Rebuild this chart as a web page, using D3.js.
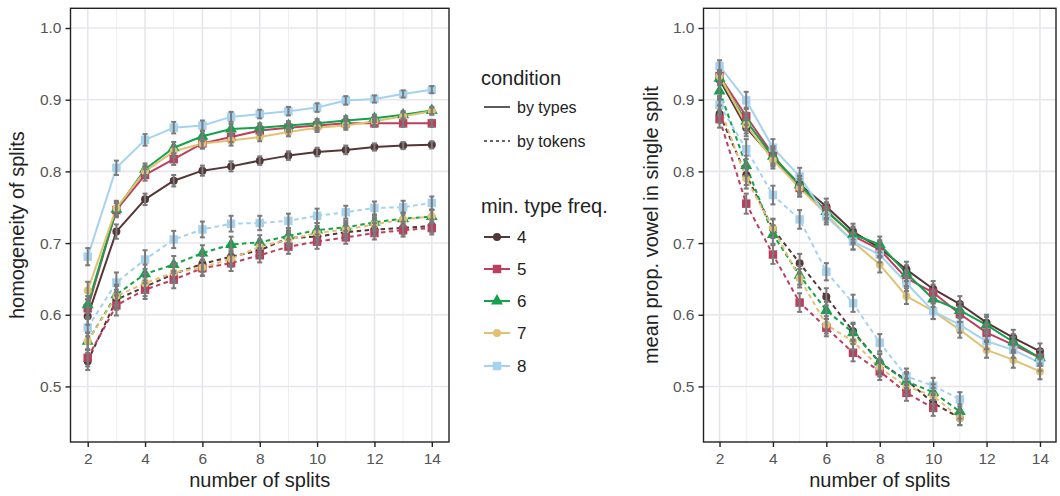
<!DOCTYPE html>
<html>
<head>
<meta charset="utf-8">
<script src="https://cdn.jsdelivr.net/npm/d3@7"></script>
<style>
  html, body { margin: 0; padding: 0; background: #fff; }
  svg { display: block; font-family: "Liberation Sans", Arial, Helvetica, sans-serif; }
</style>
</head>
<body>
<svg id="chart" width="1060" height="496"></svg>
<script>
// ---------------- data ----------------
const freqs = ["4", "5", "6", "7", "8"];
const splits = [2, 3, 4, 5, 6, 7, 8, 9, 10, 11, 12, 13, 14];
const xTicks = [2, 4, 6, 8, 10, 12, 14];
const yTicks = [0.5, 0.6, 0.7, 0.8, 0.9, 1.0];

// left panel: homogeneity of splits
const homTypes4 = [0.598, 0.716, 0.761, 0.787, 0.801, 0.807, 0.815, 0.822, 0.827, 0.830, 0.834, 0.836, 0.837];
const homTypes5 = [0.609, 0.746, 0.795, 0.817, 0.839, 0.848, 0.857, 0.861, 0.864, 0.867, 0.867, 0.867, 0.867];
const homTypes6 = [0.614, 0.747, 0.803, 0.833, 0.849, 0.859, 0.861, 0.864, 0.867, 0.871, 0.874, 0.879, 0.885];
const homTypes7 = [0.634, 0.749, 0.800, 0.828, 0.839, 0.843, 0.848, 0.855, 0.861, 0.864, 0.870, 0.877, 0.884];
const homTypes8 = [0.681, 0.805, 0.844, 0.861, 0.864, 0.876, 0.880, 0.884, 0.889, 0.899, 0.901, 0.908, 0.914];
const homTokens4 = [0.535, 0.621, 0.639, 0.657, 0.671, 0.681, 0.690, 0.707, 0.709, 0.715, 0.719, 0.721, 0.724];
const homTokens5 = [0.540, 0.613, 0.635, 0.649, 0.665, 0.672, 0.683, 0.695, 0.702, 0.708, 0.714, 0.718, 0.721];
const homTokens6 = [0.563, 0.628, 0.657, 0.670, 0.686, 0.698, 0.701, 0.710, 0.718, 0.722, 0.729, 0.734, 0.737];
const homTokens7 = [0.563, 0.626, 0.644, 0.659, 0.666, 0.678, 0.695, 0.705, 0.714, 0.719, 0.726, 0.733, 0.737];
const homTokens8 = [0.582, 0.645, 0.677, 0.705, 0.719, 0.727, 0.728, 0.731, 0.738, 0.743, 0.749, 0.750, 0.756];
const homTypesErr  = [0.012, 0.010, 0.008, 0.008, 0.007, 0.007, 0.006, 0.006, 0.006, 0.006, 0.005, 0.005, 0.005];
const homTokensErr = [0.012, 0.014, 0.013, 0.012, 0.011, 0.011, 0.010, 0.010, 0.010, 0.009, 0.009, 0.009, 0.009];

// right panel: mean prop. vowel in single split
const vowTypes4 = [0.928, 0.861, 0.819, 0.782, 0.751, 0.716, 0.693, 0.663, 0.636, 0.615, 0.589, 0.568, 0.549];
const vowTypes5 = [0.933, 0.877, 0.823, 0.777, 0.746, 0.710, 0.691, 0.651, 0.631, 0.601, 0.575, 0.558, 0.540];
const vowTypes6 = [0.930, 0.870, 0.821, 0.781, 0.744, 0.712, 0.698, 0.658, 0.622, 0.606, 0.586, 0.562, 0.540];
const vowTypes7 = [0.933, 0.865, 0.816, 0.777, 0.740, 0.702, 0.670, 0.626, 0.605, 0.579, 0.551, 0.537, 0.521];
const vowTypes8 = [0.947, 0.899, 0.833, 0.793, 0.737, 0.702, 0.684, 0.644, 0.605, 0.586, 0.563, 0.551, 0.533];
const vowTokens4 = [0.880, 0.795, 0.720, 0.672, 0.625, 0.577, 0.533, 0.509, 0.477, 0.456];
const vowTokens5 = [0.873, 0.755, 0.684, 0.617, 0.582, 0.547, 0.521, 0.491, 0.470];
const vowTokens6 = [0.912, 0.808, 0.712, 0.655, 0.606, 0.575, 0.534, 0.507, 0.492, 0.465];
const vowTokens7 = [0.890, 0.790, 0.721, 0.651, 0.586, 0.563, 0.526, 0.500, 0.487, 0.456];
const vowTokens8 = [0.893, 0.831, 0.767, 0.733, 0.660, 0.616, 0.561, 0.514, 0.501, 0.482];
const vowTypesErr  = [0.008, 0.012, 0.012, 0.012, 0.011, 0.011, 0.011, 0.011, 0.011, 0.011, 0.011, 0.011, 0.011];
const vowTokensErr = [0.012, 0.014, 0.013, 0.013, 0.012, 0.012, 0.012, 0.011, 0.011, 0.010];

const colors = ["#563636", "#bd3f60", "#14a24b", "#e1c273", "#a5d3ef"];
const shapes = ["circle", "square", "triangle", "circle", "square"];

// ---------------- drawing ----------------
const svg = d3.select("#chart");
const FONT = '"Liberation Sans", Arial, Helvetica, sans-serif';

const yScaleFor = () => d3.scaleLinear().domain([0.4225, 1.0275]).range([442, 8.3]);

function symbolPath(shape) {
  if (shape === "circle") return d3.symbol(d3.symbolCircle, 50)();
  if (shape === "square") return d3.symbol(d3.symbolSquare, 72)();
  return d3.symbol(d3.symbolTriangle, 62)();
}

function drawPanel(opts) {
  const x = d3.scaleLinear().domain([1.4, 14.6]).range([opts.x0, opts.x1]);
  const y = yScaleFor();
  const g = svg.append("g");
  const [yTop, yBot] = [y.range()[1], y.range()[0]];

  // minor grid (odd x)
  g.selectAll(".minx").data([3, 5, 7, 9, 11, 13]).join("line")
    .attr("x1", d => x(d)).attr("x2", d => x(d)).attr("y1", yTop).attr("y2", yBot)
    .attr("stroke", "#ececf1").attr("stroke-width", 0.9);
  // major grid
  g.selectAll(".majx").data(xTicks).join("line")
    .attr("x1", d => x(d)).attr("x2", d => x(d)).attr("y1", yTop).attr("y2", yBot)
    .attr("stroke", "#e6e6ec").attr("stroke-width", 1.6);
  g.selectAll(".majy").data(yTicks).join("line")
    .attr("x1", opts.x0).attr("x2", opts.x1).attr("y1", d => y(d)).attr("y2", d => y(d))
    .attr("stroke", "#e6e6ec").attr("stroke-width", 1.6);

  // series
  const line = d3.line().x(d => x(d.x)).y(d => y(d.y));
  const groups = [];
  opts.series.forEach(s => {
    const pts = s.values.map((v, i) => ({ x: splits[i], y: v, e: s.err[i] }));
    groups.push({ ...s, pts });
  });
  groups.forEach(s => {
    g.append("path").datum(s.pts).attr("d", line)
      .attr("fill", "none").attr("stroke", colors[s.fi]).attr("stroke-width", 2)
      .attr("stroke-dasharray", s.dashed ? "4.5,3.5" : null)
      .attr("stroke-linejoin", "round");
  });
  groups.forEach(s => {
    g.selectAll(null).data(s.pts).join("path")
      .attr("d", symbolPath(shapes[s.fi]))
      .attr("transform", d => `translate(${x(d.x)},${y(d.y)})`)
      .attr("fill", colors[s.fi]);
  });
  // error bars
  groups.forEach(s => {
    const eb = g.selectAll(null).data(s.pts).join("g").attr("stroke", "#7a7a7a").attr("stroke-width", 2);
    eb.append("line").attr("x1", d => x(d.x)).attr("x2", d => x(d.x))
      .attr("y1", d => y(d.y - d.e)).attr("y2", d => y(d.y + d.e));
    eb.append("line").attr("x1", d => x(d.x) - 2.5).attr("x2", d => x(d.x) + 2.5)
      .attr("y1", d => y(d.y - d.e)).attr("y2", d => y(d.y - d.e));
    eb.append("line").attr("x1", d => x(d.x) - 2.5).attr("x2", d => x(d.x) + 2.5)
      .attr("y1", d => y(d.y + d.e)).attr("y2", d => y(d.y + d.e));
  });

  // border
  g.append("rect").attr("x", opts.x0).attr("y", yTop)
    .attr("width", opts.x1 - opts.x0).attr("height", yBot - yTop)
    .attr("fill", "none").attr("stroke", "#222").attr("stroke-width", 1.4);

  // axes
  const ax = g.append("g").attr("transform", `translate(0,${yBot})`)
    .call(d3.axisBottom(x).tickValues(xTicks).tickSize(5).tickPadding(6).tickFormat(d3.format("d")));
  ax.select(".domain").remove();
  ax.selectAll("line").attr("stroke", "#222").attr("stroke-width", 1.4);
  ax.selectAll("text").attr("fill", "#555").style("font-size", "15.5px").style("font-family", FONT);

  const ay = g.append("g").attr("transform", `translate(${opts.x0},0)`)
    .call(d3.axisLeft(y).tickValues(yTicks).tickSize(5).tickPadding(4).tickFormat(d3.format(".1f")));
  ay.select(".domain").remove();
  ay.selectAll("line").attr("stroke", "#222").attr("stroke-width", 1.4);
  ay.selectAll("text").attr("fill", "#555").style("font-size", "15.5px").style("font-family", FONT);

  // titles
  g.append("text").attr("x", (opts.x0 + opts.x1) / 2).attr("y", 487)
    .attr("text-anchor", "middle").attr("fill", "#222").style("font-size", "20px")
    .text("number of splits");
  g.append("text").attr("transform", `translate(${opts.ytx},${(yTop + yBot) / 2}) rotate(-90)`)
    .attr("text-anchor", "middle").attr("fill", "#222").style("font-size", "20px")
    .text(opts.ytitle);
}

const homTypes = [homTypes4, homTypes5, homTypes6, homTypes7, homTypes8];
const homTokens = [homTokens4, homTokens5, homTokens6, homTokens7, homTokens8];
const vowTypes = [vowTypes4, vowTypes5, vowTypes6, vowTypes7, vowTypes8];
const vowTokens = [vowTokens4, vowTokens5, vowTokens6, vowTokens7, vowTokens8];

function buildSeries(types, tokens, errT, errK) {
  const s = [];
  tokens.forEach((v, fi) => s.push({ fi, values: v, err: errK, dashed: true }));
  types.forEach((v, fi) => s.push({ fi, values: v, err: errT, dashed: false }));
  return s;
}

drawPanel({ x0: 70.5, x1: 449, ytx: 24, ytitle: "homogeneity of splits",
  series: buildSeries(homTypes, homTokens, homTypesErr, homTokensErr) });
drawPanel({ x0: 703.5, x1: 1056, ytx: 658, ytitle: "mean prop. vowel in single split",
  series: buildSeries(vowTypes, vowTokens, vowTypesErr, vowTokensErr) });

// ---------------- legend ----------------
const lg = svg.append("g").style("font-family", FONT);
lg.append("text").attr("x", 481).attr("y", 85).attr("fill", "#222").style("font-size", "20px").text("condition");
const condItems = [{ label: "by types", dash: null, y: 107 }, { label: "by tokens", dash: "3,3", y: 141 }];
condItems.forEach(c => {
  lg.append("line").attr("x1", 484).attr("x2", 510).attr("y1", c.y).attr("y2", c.y)
    .attr("stroke", "#333").attr("stroke-width", 1.6).attr("stroke-dasharray", c.dash);
  lg.append("text").attr("x", 517).attr("y", c.y + 6).attr("fill", "#222").style("font-size", "16px").text(c.label);
});
lg.append("text").attr("x", 481).attr("y", 213).attr("fill", "#222").style("font-size", "20px").text("min. type freq.");
const legY = [237, 269, 301, 333, 366];
freqs.forEach((f, i) => {
  lg.append("line").attr("x1", 484).attr("x2", 510).attr("y1", legY[i]).attr("y2", legY[i])
    .attr("stroke", colors[i]).attr("stroke-width", 2);
  lg.append("path").attr("d", symbolPath(shapes[i])).attr("transform", `translate(497,${legY[i]})`)
    .attr("fill", colors[i]);
  lg.append("text").attr("x", 517).attr("y", legY[i] + 6).attr("fill", "#222").style("font-size", "17px").text(f);
});
</script>
</body>
</html>
